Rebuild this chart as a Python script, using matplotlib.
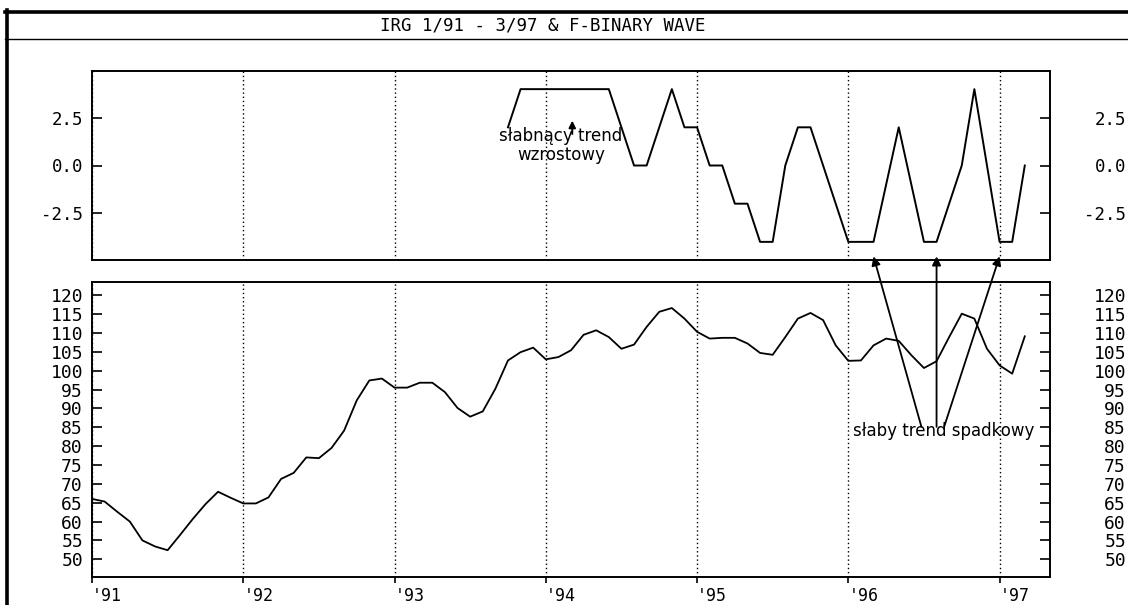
import numpy as np
import matplotlib.pyplot as plt
from matplotlib.lines import Line2D
from matplotlib.ticker import FormatStrFormatter

plt.rcParams['axes.unicode_minus'] = False
mono = 'DejaVu Sans Mono'

# IRG monthly, 1/91 - 3/97
irg = [66.0, 65.3, 62.6, 60.0, 55.0, 53.4, 52.4, 56.5, 60.7, 64.6, 67.9, 66.3,
       64.8, 64.8, 66.4, 71.3, 72.9, 77.0, 76.8, 79.5, 84.1, 92.1, 97.4, 97.9,
       95.5, 95.5, 96.8, 96.8, 94.3, 90.1, 87.8, 89.2, 95.2, 102.7, 104.9, 106.1,
       103.0, 103.6, 105.4, 109.5, 110.7, 108.9, 105.8, 106.9, 111.6, 115.6, 116.6, 113.8,
       110.3, 108.5, 108.7, 108.7, 107.2, 104.7, 104.2, 108.9, 113.8, 115.3, 113.4, 106.7,
       102.6, 102.7, 106.7, 108.5, 107.9, 104.1, 100.7, 102.5, 108.9, 115.1, 113.8, 105.8,
       101.4, 99.2, 109.1]

# F-binary wave, starts 10/93
wave_start = 33
wave = [2, 4, 4, 4, 4, 4, 4, 4, 4, 2, 0, 0, 2, 4, 2, 2, 0, 0, -2, -2, -4,
        -4, 0, 2, 2, 0, -2, -4, -4, -4, -1, 2, -1, -4, -4, -2, 0, 4, 0, -4, -4, 0]

year_labels = ["'91", "'92", "'93", "'94", "'95", "'96", "'97"]
year_ticks = [0, 12, 24, 36, 48, 60, 72]
wave_ticks = [-2.5, 0.0, 2.5]
irg_ticks = list(range(50, 121, 5))

# annotation anchors (months)
weak_down_arrows = [62, 67, 72]
weak_down_feet = [65.8, 67, 67.6]

months = np.arange(len(irg))
wave_months = np.arange(wave_start, wave_start + len(wave))

W, H = 1128, 605
fig = plt.figure(figsize=(W / 100, H / 100), dpi=100)


def box(l, t, r, b):
    return [l / W, 1 - b / H, (r - l) / W, (b - t) / H]


def style_panel(ax, ylim, ticks, fmt=None, size=12.5):
    ax.set_xlim(0, 76)
    ax.set_ylim(*ylim)
    ax.patch.set_visible(False)
    for s in ax.spines.values():
        s.set_linewidth(1.2)
    ax.set_xticks(year_ticks)
    ax.grid(axis='x', color='black', lw=1, ls=(0, (1, 2)))
    ax.set_yticks(ticks)
    if fmt:
        ax.yaxis.set_major_formatter(FormatStrFormatter(fmt))
    ax.tick_params(axis='y', direction='in', length=7, width=1.2, pad=6.5,
                   labelsize=size, labelfontfamily=mono)
    # labels on the far right, right-aligned
    axr = ax.twinx()
    axr.set_ylim(*ylim)
    axr.set_yticks(ticks)
    if fmt:
        axr.yaxis.set_major_formatter(FormatStrFormatter(fmt))
    axr.tick_params(axis='y', direction='in', length=7, width=1.2, pad=54.7,
                    labelsize=size, labelfontfamily=mono)
    for t in axr.get_yticklabels():
        t.set_ha('right')
    for s in axr.spines.values():
        s.set_linewidth(1.2)
    return axr


# top: binary wave
ax_w = fig.add_axes(box(92, 71, 1050, 260))
style_panel(ax_w, (-4.95, 4.95), wave_ticks, '%.1f', 12.5)
ax_w.tick_params(axis='x', length=0, labelbottom=False)
ax_w.plot(wave_months, wave, color='black', lw=1.4)

ax_w.text(37.2, 1.05, 'słabnący trend\nwzrostowy', ha='center', va='center',
          fontsize=12, linespacing=1.05)
ax_w.annotate('', xy=(38.1, 2.35), xytext=(38.1, 1.65),
              arrowprops=dict(arrowstyle='-|>', color='black', lw=1.4,
                              mutation_scale=10, shrinkA=0, shrinkB=0))

# bottom: IRG
ax_p = fig.add_axes(box(92, 282, 1050, 577))
style_panel(ax_p, (45.3, 123.5), irg_ticks, None, 13)
ax_p.set_xticks(year_ticks, year_labels)
ax_p.tick_params(axis='x', direction='out', length=4, width=1.2, pad=3,
                 labelsize=12, labelfontfamily=mono)
for t in ax_p.get_xticklabels():
    t.set_ha('left')
ax_p.plot(months, irg, color='black', lw=1.3)

ax_p.text(67.6, 84.0, 'słaby trend spadkowy', ha='center', va='center', fontsize=12)
for xa, xf in zip(weak_down_arrows, weak_down_feet):
    ax_p.annotate('', xy=(xa, -4.76), xycoords=ax_w.transData,
                  xytext=(xf, 85.1), textcoords='data', annotation_clip=False,
                  arrowprops=dict(arrowstyle='-|>', color='black', lw=1.3,
                                  mutation_scale=13, shrinkA=0, shrinkB=0))

# outer frame and title strip
fig.add_artist(Line2D([6.5 / W, 6.5 / W], [0, 1 - 10 / H], color='black', lw=2.6))
fig.add_artist(Line2D([5 / W, 1], [1 - 11.5 / H, 1 - 11.5 / H], color='black', lw=2.6))
fig.add_artist(Line2D([5 / W, 1], [1 - 39 / H, 1 - 39 / H], color='black', lw=1))
fig.text(543 / W, 1 - 25 / H, 'IRG 1/91 - 3/97 & F-BINARY WAVE', ha='center',
         va='center', fontsize=12.5, family=mono)

fig.savefig('out.png', dpi=100)
